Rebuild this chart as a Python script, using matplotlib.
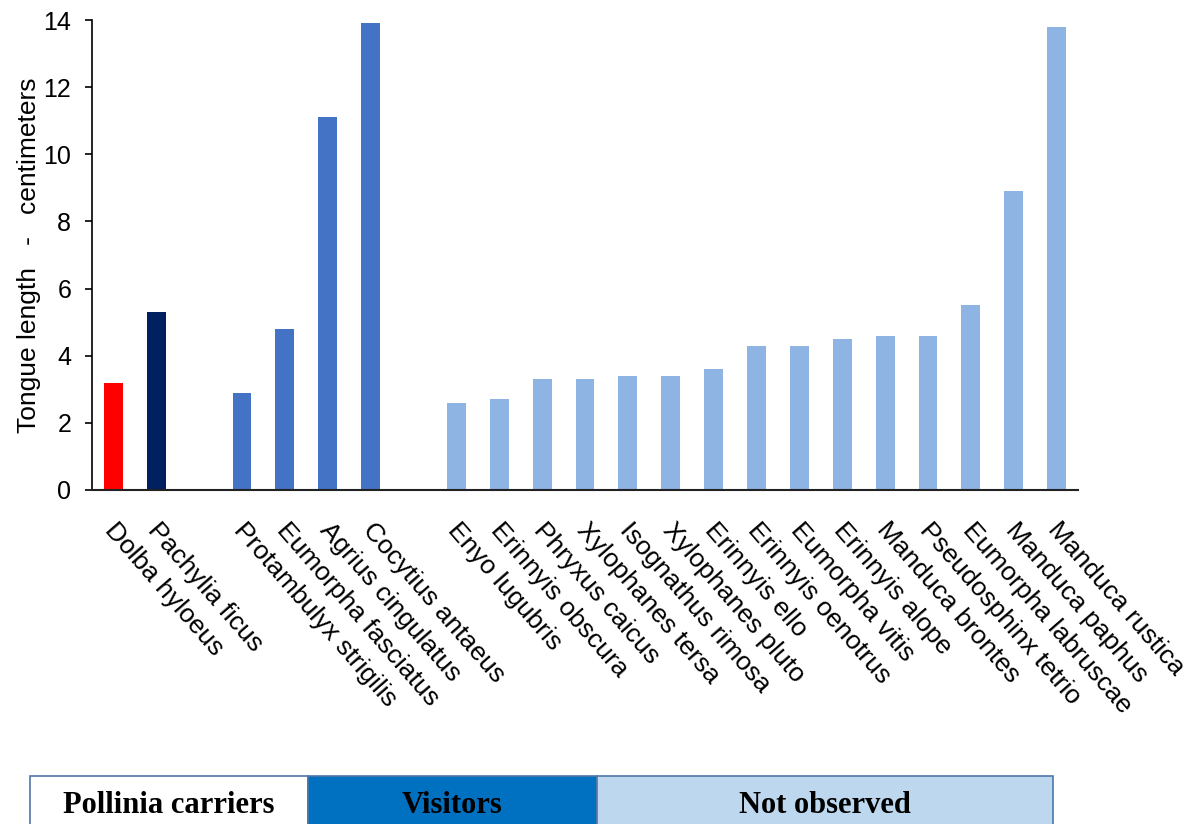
import numpy as np
import matplotlib
matplotlib.use("Agg")
import matplotlib.pyplot as plt
from matplotlib.patches import Rectangle
from matplotlib.transforms import ScaledTranslation

plt.rcParams['font.family'] = ['Liberation Sans', 'DejaVu Sans']

# species and tongue length (cm)
species = [
    "Dolba hyloeus", "Pachylia ficus",
    "Protambulyx strigilis", "Eumorpha fasciatus", "Agrius cingulatus", "Cocytius antaeus",
    "Enyo lugubris", "Erinnyis obscura", "Phryxus caicus", "Xylophanes tersa",
    "Isognathus rimosa", "Xylophanes pluto", "Erinnyis ello", "Erinnyis oenotrus",
    "Eumorpha vitis", "Erinnyis alope", "Manduca brontes", "Pseudosphinx tetrio",
    "Eumorpha labruscae", "Manduca paphus", "Manduca rustica",
]
tongue_cm = [3.2, 5.3,
             2.9, 4.8, 11.1, 13.9,
             2.6, 2.7, 3.3, 3.3, 3.4, 3.4, 3.6, 4.3, 4.3, 4.5, 4.6, 4.6, 5.5, 8.9, 13.8]
# 0 = pollinia carriers, 1 = visitors, 2 = not observed
group = [0, 0, 1, 1, 1, 1] + [2] * 15

legend_labels = ["Pollinia carriers", "Visitors", "Not observed"]

bar_colors = ["#FF0000", "#002060"] + ["#4472C4"] * 4 + ["#8EB4E3"] * 15
legend_colors = ["#FFFFFF", "#0070C0", "#BDD7EE"]

# one empty slot between groups
pos = np.arange(len(species)) + np.array(group)

fig = plt.figure(figsize=(11.9, 8.24), dpi=100)
W, H = 1190, 824
ax = fig.add_axes([92 / W, 1 - 490 / H, (1078 - 92) / W, (490 - 20) / H])

ax.bar(pos, tongue_cm, width=0.44, color=bar_colors)
ax.set_xlim(-0.5, pos[-1] + 0.5)
ax.set_ylim(0, 14)
ax.set_yticks(range(0, 15, 2))
ax.tick_params(axis='y', labelsize=18, length=5, width=1.2, pad=10)
ax.set_xticks(pos)
ax.set_xticklabels(species, rotation=-49, ha='left', va='top',
                   rotation_mode='anchor', fontsize=19)
ax.tick_params(axis='x', length=0, pad=20)
shift = ScaledTranslation(5 / 100, 0, fig.dpi_scale_trans)
for lbl in ax.get_xticklabels():
    lbl.set_transform(lbl.get_transform() + shift)
for s in ['top', 'right']:
    ax.spines[s].set_visible(False)
ax.spines['left'].set_linewidth(1.2)
ax.spines['bottom'].set_linewidth(1.5)
ax.spines['bottom'].set_color('#222222')
ax.set_ylabel("Tongue length   -   centimeters", fontsize=19, labelpad=2)

# legend boxes along the bottom
edges = [30, 308, 597, 1053]
for i, lab in enumerate(legend_labels):
    x0, x1 = edges[i], edges[i + 1]
    fig.patches.append(Rectangle((x0 / W, 0 - 10 / H), (x1 - x0) / W, (58) / H,
                                 transform=fig.transFigure, facecolor=legend_colors[i],
                                 edgecolor='#4F78A8', linewidth=1.2))
    fig.text((x0 + x1) / 2 / W, 1 - 813 / H, lab, ha='center', va='baseline',
             fontsize=22, fontweight='bold', family='Liberation Serif')

fig.savefig("out.png", dpi=100)
